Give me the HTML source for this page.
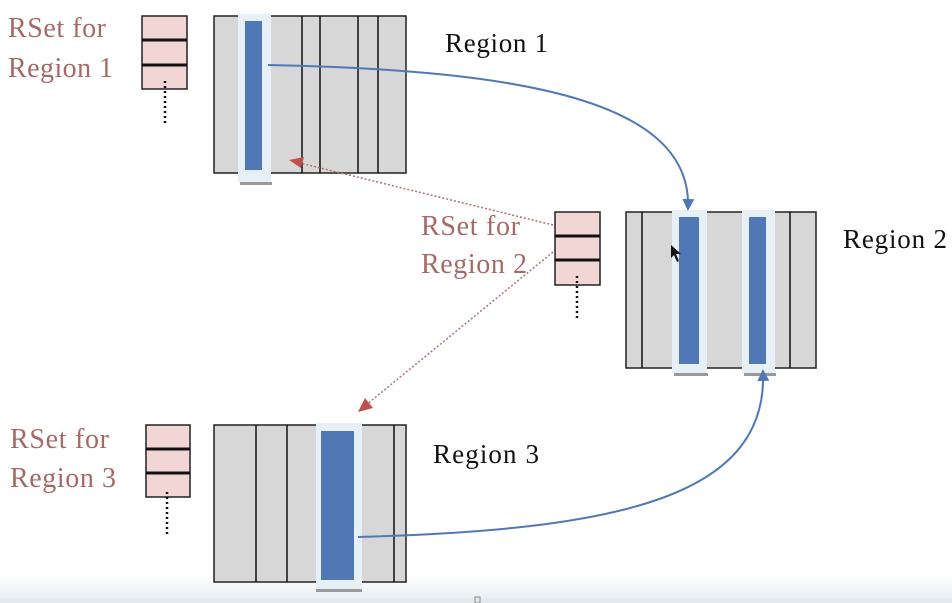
<!DOCTYPE html>
<html><head><meta charset="utf-8"><style>
html,body{margin:0;padding:0;background:#fff;width:952px;height:603px;overflow:hidden}
text{font-family:"Liberation Serif",serif}
</style></head><body>
<svg width="952" height="603" viewBox="0 0 952 603" xmlns="http://www.w3.org/2000/svg">
<defs>
<marker id="ab" markerWidth="12" markerHeight="12" refX="9" refY="6" orient="auto" markerUnits="userSpaceOnUse"><path d="M0,0 L12,6 L0,12 Z" fill="#4f78b5"/></marker>
<linearGradient id="bot" x1="0" y1="0" x2="0" y2="1"><stop offset="0" stop-color="#fff"/><stop offset="1" stop-color="#e6ecf0"/></linearGradient>
</defs>
<rect x="0" y="575" width="952" height="28" fill="url(#bot)"/>
<rect x="0" y="598" width="952" height="5" fill="#e3eaee"/>

<!-- RSet 1 -->
<rect x="142" y="16" width="45" height="73" fill="#f2d6d6" stroke="#222" stroke-width="1.5"/>
<line x1="142" y1="40" x2="187" y2="40" stroke="#111" stroke-width="3"/>
<line x1="142" y1="65" x2="187" y2="65" stroke="#111" stroke-width="3"/>
<line x1="165" y1="81" x2="165" y2="123" stroke="#111" stroke-width="2.5" stroke-dasharray="2,3"/>
<text x="8" y="37" font-size="28" fill="#a66a66" textLength="98">RSet for</text>
<text x="8" y="77" font-size="28" fill="#a66a66" textLength="105">Region 1</text>

<!-- Region 1 -->
<rect x="214" y="16" width="192" height="157" fill="#d7d7d7" stroke="#222" stroke-width="1.5"/>
<g stroke="#111" stroke-width="1.5"><line x1="302" y1="16" x2="302" y2="173"/><line x1="320" y1="16" x2="320" y2="173"/><line x1="358" y1="16" x2="358" y2="173"/><line x1="378" y1="16" x2="378" y2="173"/></g>
<rect x="240" y="182" width="32" height="3" fill="#999"/>
<rect x="238" y="14" width="33" height="168" fill="#e8f0f7"/>
<rect x="245" y="21" width="17" height="149" fill="#4f78b5"/>
<text x="445" y="52" font-size="27" fill="#111" textLength="103">Region 1</text>

<!-- RSet 2 -->
<rect x="555" y="212" width="45" height="73" fill="#f2d6d6" stroke="#222" stroke-width="1.5"/>
<line x1="555" y1="236" x2="600" y2="236" stroke="#111" stroke-width="3"/>
<line x1="555" y1="260" x2="600" y2="260" stroke="#111" stroke-width="3"/>
<line x1="577" y1="276" x2="577" y2="318" stroke="#111" stroke-width="2.5" stroke-dasharray="2,3"/>
<text x="421" y="235" font-size="28" fill="#a66a66" textLength="99">RSet for</text>
<text x="421" y="273" font-size="28" fill="#a66a66" textLength="106">Region 2</text>

<!-- Region 2 -->
<rect x="626" y="212" width="190" height="156" fill="#d7d7d7" stroke="#222" stroke-width="1.5"/>
<g stroke="#111" stroke-width="1.5"><line x1="642" y1="212" x2="642" y2="368"/><line x1="790" y1="212" x2="790" y2="368"/></g>
<rect x="674" y="373" width="34" height="3" fill="#999"/>
<rect x="744" y="373" width="32" height="3" fill="#999"/>
<rect x="672" y="210" width="35" height="163" fill="#e8f0f7"/>
<rect x="742" y="210" width="33" height="163" fill="#e8f0f7"/>
<rect x="679" y="217" width="20" height="147" fill="#4f78b5"/>
<rect x="749" y="217" width="17" height="147" fill="#4f78b5"/>
<text x="843" y="248" font-size="27" fill="#111" textLength="104">Region 2</text>
<path d="M671,245 L671,258 L674,255 L677,262 L679,261 L676,254 L681,254 Z" fill="#111"/>

<!-- RSet 3 -->
<rect x="146" y="425" width="44" height="72" fill="#f2d6d6" stroke="#222" stroke-width="1.5"/>
<line x1="146" y1="449" x2="190" y2="449" stroke="#111" stroke-width="3"/>
<line x1="146" y1="473" x2="190" y2="473" stroke="#111" stroke-width="3"/>
<line x1="167" y1="492" x2="167" y2="534" stroke="#111" stroke-width="2.5" stroke-dasharray="2,3"/>
<text x="10" y="448" font-size="28" fill="#a66a66" textLength="99">RSet for</text>
<text x="10" y="487" font-size="28" fill="#a66a66" textLength="106">Region 3</text>

<!-- Region 3 -->
<rect x="214" y="425" width="192" height="157" fill="#d7d7d7" stroke="#222" stroke-width="1.5"/>
<g stroke="#111" stroke-width="1.5"><line x1="256" y1="425" x2="256" y2="582"/><line x1="287" y1="425" x2="287" y2="582"/><line x1="394" y1="425" x2="394" y2="582"/></g>
<rect x="316" y="589" width="46" height="3" fill="#999"/>
<rect x="316" y="423" width="46" height="166" fill="#e8f0f7"/>
<rect x="321" y="431" width="33" height="149" fill="#4f78b5"/>
<text x="433" y="463" font-size="27" fill="#111" textLength="106">Region 3</text>

<!-- blue arrows -->
<path d="M268,65 C520,70 692,100 688,208" fill="none" stroke="#4f78b5" stroke-width="2" marker-end="url(#ab)"/>
<path d="M358,537 C610,530 768,500 763,372" fill="none" stroke="#4f78b5" stroke-width="2" marker-end="url(#ab)"/>

<!-- red dotted arrows -->
<line x1="553" y1="225" x2="300" y2="163" stroke="#b07070" stroke-width="1.5" stroke-dasharray="2,2"/>
<path d="M289,160 L304,157 L301,168 Z" fill="#c0504d"/>
<line x1="553" y1="252" x2="366" y2="405" stroke="#b07070" stroke-width="1.5" stroke-dasharray="2,2"/>
<path d="M358,412 L365,398 L373,408 Z" fill="#c0504d"/>

<rect x="475" y="597" width="5" height="6" fill="none" stroke="#888" stroke-width="1"/>
</svg>
</body></html>
